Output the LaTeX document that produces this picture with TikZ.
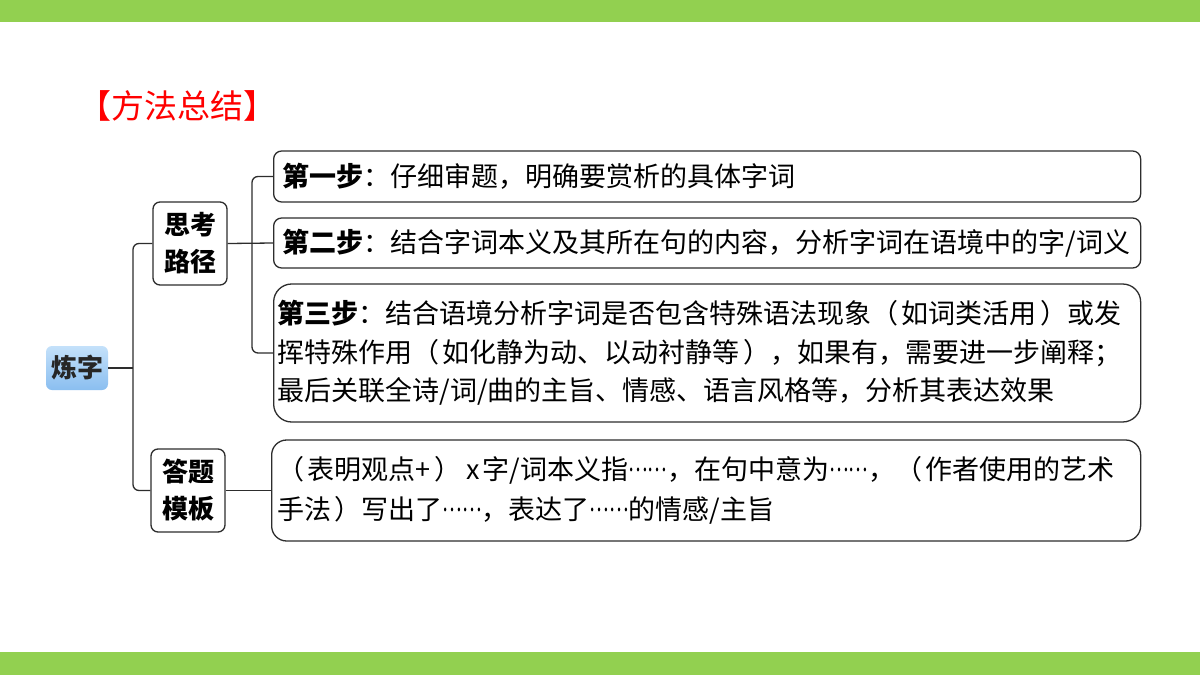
\documentclass[tikz,border=0pt]{standalone}
\usepackage{fontspec}
\setmainfont{Noto Sans CJK SC}
\usetikzlibrary{shadings}
\definecolor{barg}{RGB}{146,208,80}
\definecolor{linec}{RGB}{45,45,45}
\definecolor{bluetop}{RGB}{196,225,250}
\definecolor{bluebot}{RGB}{138,190,240}
\newcommand\elli{\raisebox{0.3em}{\scalebox{0.68}[1]{……}}}
\newcommand\lp{（\hspace{0.12em}}
\newcommand\rp{\hspace{0.12em}）}
\tikzset{
  conn/.style={draw=linec, line width=1.3pt, rounded corners=6pt},
  catbox/.style={draw=linec, line width=1.3pt, rounded corners=7pt, minimum width=74pt, minimum height=83pt, align=center, inner sep=0pt, font=\fontsize{26}{37}\selectfont\bfseries},
  stepbox/.style={draw=linec, line width=1.3pt, anchor=west, align=left, font=\fontsize{27}{38.5}\selectfont},
}
\begin{document}
\begin{tikzpicture}[x=1pt,y=-1pt]
\useasboundingbox (0,0) rectangle (1200,675);
\fill[white] (0,0) rectangle (1200,675);
\fill[barg] (0,0) rectangle (1200,22);
\fill[barg] (0,652) rectangle (1200,675);
\node[anchor=west, text=red, font=\fontsize{33}{33}\selectfont, inner sep=0pt] (title) at (78,106) {【方法总结】};
% root
\node[rounded corners=6pt, top color=bluetop, bottom color=bluebot, minimum width=62pt, minimum height=44pt, inner sep=0pt, font=\fontsize{26}{26}\selectfont\bfseries, text=black!85] (lz) at (77,368) {炼字};
% categories
\node[catbox] (sk) at (190,243.5) {思考\\路径};
\node[catbox] (dt) at (188,490.5) {答题\\模板};
% step boxes
\node[stepbox, rounded corners=8pt, minimum width=867pt, minimum height=51pt, inner xsep=9pt, text width=849pt] (s1) at (273,176.5) {\textbf{第一步}：仔细审题，明确要赏析的具体字词};
\node[stepbox, rounded corners=8pt, minimum width=867pt, minimum height=50pt, inner xsep=9pt, text width=849pt] (s2) at (273,243) {\textbf{第二步}：结合字词本义及其所在句的内容，分析字词在语境中的字/词义};
\node[stepbox, rounded corners=18pt, minimum width=867pt, minimum height=138pt, inner xsep=4pt, text width=859pt] (s3) at (273,353) {\textbf{第三步}：结合语境分析字词是否包含特殊语法现象\lp 如词类活用\rp 或发\\挥特殊作用\lp 如化静为动、以动衬静等\rp ，如果有，需要进一步阐释；\\最后关联全诗/词/曲的主旨、情感、语言风格等，分析其表达效果};
\node[stepbox, rounded corners=15pt, minimum width=869pt, minimum height=101pt, inner xsep=6pt, text width=857pt, font=\fontsize{27}{40}\selectfont] (tp) at (271,490.5) {\lp 表明观点+\rp\hspace{0.2em}x\hspace{0.1em}字/词本义指\elli，在句中意为\elli，\lp 作者使用的艺术\\手法\rp 写出了\elli，表达了\elli 的情感/主旨};
% connectors
\coordinate (j1) at (133,368);
\coordinate (j2) at (252,243);
\draw[conn] (lz.east) -- (j1);
\draw[conn] (sk.west) -- (133,243.5) -- (133,490.5) -- (dt.west);
\draw[conn] (sk.east) -- (s2.west);
\draw[conn] (s1.west) -- (252,176.5) -- (252,353) -- (s3.west);
\draw[conn] (dt.east) -- (tp.west);
\end{tikzpicture}
\end{document}
